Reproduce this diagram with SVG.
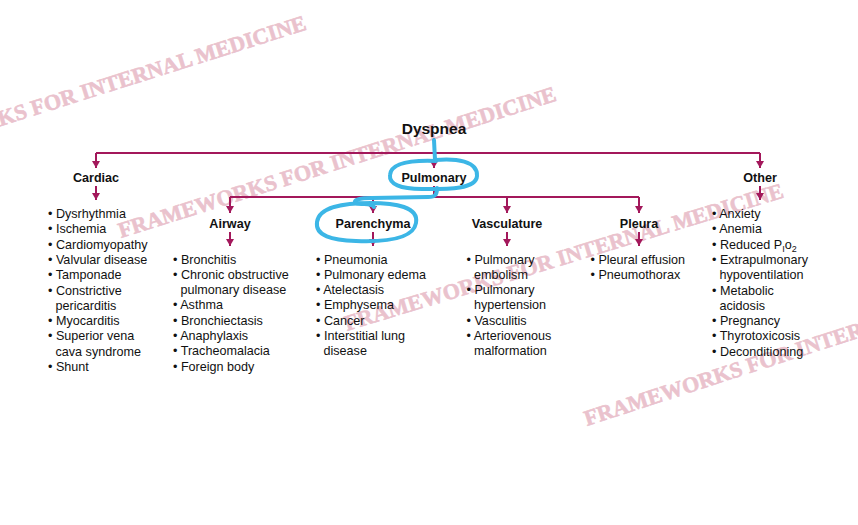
<svg xmlns="http://www.w3.org/2000/svg" width="858" height="525" viewBox="0 0 858 525">
<style>
.wm{font-family:"Liberation Serif",serif;font-weight:bold;font-size:22px;fill:#eac2cd;stroke:#eac2cd;stroke-width:0.6}
.h1{font-family:"Liberation Sans",Arial,sans-serif;font-weight:bold;font-size:15.5px;fill:#111;text-anchor:middle}
.h{font-family:"Liberation Sans",Arial,sans-serif;font-weight:bold;font-size:12.6px;fill:#111;text-anchor:middle}
.li{font-family:"Liberation Sans",Arial,sans-serif;font-size:12.6px;fill:#111}
.c{fill:none;stroke:#a3185b;stroke-width:2}
.blue{fill:none;stroke:#3cb6e6;stroke-width:4;stroke-linecap:round;stroke-linejoin:round}
</style>
<defs>
<marker id="ah" markerUnits="userSpaceOnUse" markerWidth="10" markerHeight="10" viewBox="0 0 10 10" refX="9" refY="5" orient="auto">
<path d="M2,1 L9,5 L2,9 Z" fill="#a3185b"/>
</marker>
</defs>
<rect width="858" height="525" fill="#fff"/>
<g id="watermarks">
<text class="wm" transform="translate(-129,167) rotate(-17.5)">FRAMEWORKS FOR INTERNAL MEDICINE</text>
<text class="wm" transform="translate(121,238) rotate(-17.5)">FRAMEWORKS FOR INTERNAL MEDICINE</text>
<text class="wm" transform="translate(347,331) rotate(-17)">FRAMEWORKS FOR INTERNAL MEDICINE</text>
<text class="wm" transform="translate(587,426) rotate(-18)">FRAMEWORKS FOR INTERNAL MEDICINE</text>
</g>
<g id="connectors">
<path class="c" d="M434,138 V153"/>
<path class="c" d="M96,153 H760"/>
<path class="c" d="M96,153 V168" marker-end="url(#ah)"/>
<path class="c" d="M434,153 V168" marker-end="url(#ah)"/>
<path class="c" d="M760,153 V168" marker-end="url(#ah)"/>
<path class="c" d="M96,186 V200" marker-end="url(#ah)"/>
<path class="c" d="M760,186 V200" marker-end="url(#ah)"/>
<path class="c" d="M434,186 V197"/>
<path class="c" d="M230,197 H639"/>
<path class="c" d="M230,197 V213" marker-end="url(#ah)"/>
<path class="c" d="M373,197 V213" marker-end="url(#ah)"/>
<path class="c" d="M507,197 V213" marker-end="url(#ah)"/>
<path class="c" d="M639,197 V213" marker-end="url(#ah)"/>
<path class="c" d="M230,232 V246" marker-end="url(#ah)"/>
<path class="c" d="M373,232 V246" marker-end="url(#ah)"/>
<path class="c" d="M507,232 V246" marker-end="url(#ah)"/>
<path class="c" d="M639,232 V246" marker-end="url(#ah)"/>
</g>
<g id="dyspnea"><text class="h1" x="434" y="133.5">Dyspnea</text></g>
<g id="cardiac">
<text class="h" x="96" y="181.5">Cardiac</text>
<text class="li" x="48" y="218">• Dysrhythmia</text>
<text class="li" x="48" y="233.3">• Ischemia</text>
<text class="li" x="48" y="248.6">• Cardiomyopathy</text>
<text class="li" x="48" y="263.9">• Valvular disease</text>
<text class="li" x="48" y="279.2">• Tamponade</text>
<text class="li" x="48" y="294.5">• Constrictive</text>
<text class="li" x="55.5" y="309.8">pericarditis</text>
<text class="li" x="48" y="325.1">• Myocarditis</text>
<text class="li" x="48" y="340.4">• Superior vena</text>
<text class="li" x="55.5" y="355.7">cava syndrome</text>
<text class="li" x="48" y="371">• Shunt</text>
</g>
<g id="pulmonary"><text class="h" x="434" y="181.5">Pulmonary</text></g>
<g id="other">
<text class="h" x="760" y="181.5">Other</text>
<text class="li" x="712" y="218">• Anxiety</text>
<text class="li" x="712" y="233.3">• Anemia</text>
<text class="li" x="712" y="248.6">• Reduced P<tspan font-size="9" dy="3">I</tspan><tspan dy="-3">o</tspan><tspan font-size="9" dy="3">2</tspan></text>
<text class="li" x="712" y="263.9">• Extrapulmonary</text>
<text class="li" x="719.5" y="279.2">hypoventilation</text>
<text class="li" x="712" y="294.5">• Metabolic</text>
<text class="li" x="719.5" y="309.8">acidosis</text>
<text class="li" x="712" y="325.1">• Pregnancy</text>
<text class="li" x="712" y="340.4">• Thyrotoxicosis</text>
<text class="li" x="712" y="355.7">• Deconditioning</text>
</g>
<g id="airway">
<text class="h" x="230" y="227.5">Airway</text>
<text class="li" x="173" y="263.5">• Bronchitis</text>
<text class="li" x="173" y="278.8">• Chronic obstructive</text>
<text class="li" x="180.5" y="294.1">pulmonary disease</text>
<text class="li" x="173" y="309.4">• Asthma</text>
<text class="li" x="173" y="324.7">• Bronchiectasis</text>
<text class="li" x="173" y="340">• Anaphylaxis</text>
<text class="li" x="173" y="355.3">• Tracheomalacia</text>
<text class="li" x="173" y="370.6">• Foreign body</text>
</g>
<g id="parenchyma">
<text class="h" x="373" y="227.5">Parenchyma</text>
<text class="li" x="316" y="263.5">• Pneumonia</text>
<text class="li" x="316" y="278.8">• Pulmonary edema</text>
<text class="li" x="316" y="294.1">• Atelectasis</text>
<text class="li" x="316" y="309.4">• Emphysema</text>
<text class="li" x="316" y="324.7">• Cancer</text>
<text class="li" x="316" y="340">• Interstitial lung</text>
<text class="li" x="323.5" y="355.3">disease</text>
</g>
<g id="vasculature">
<text class="h" x="507" y="227.5">Vasculature</text>
<text class="li" x="466.5" y="263.5">• Pulmonary</text>
<text class="li" x="474" y="278.8">embolism</text>
<text class="li" x="466.5" y="294.1">• Pulmonary</text>
<text class="li" x="474" y="309.4">hypertension</text>
<text class="li" x="466.5" y="324.7">• Vasculitis</text>
<text class="li" x="466.5" y="340">• Arteriovenous</text>
<text class="li" x="474" y="355.3">malformation</text>
</g>
<g id="pleura">
<text class="h" x="639" y="227.5">Pleura</text>
<text class="li" x="590.5" y="263.5">• Pleural effusion</text>
<text class="li" x="590.5" y="278.8">• Pneumothorax</text>
</g>
<g id="annotations">
<path class="blue" d="M434,140 L435,160 C456,158 478,161 477,176 C476,190 445,189 422,189 C400,189 389,184 390,175 C391,163 410,160 436,161"/>
<path class="blue" d="M437,188 C437,194 436,197 428,197 L372,198 C360,198 352,200 356,203 C362,205 372,203 374,207"/>
<path class="blue" d="M370,203 C396,203 419,207 416,223 C413,240 382,242 356,241 C332,240 315,236 317,222 C319,207 342,203 372,203"/>
</g>
</svg>
